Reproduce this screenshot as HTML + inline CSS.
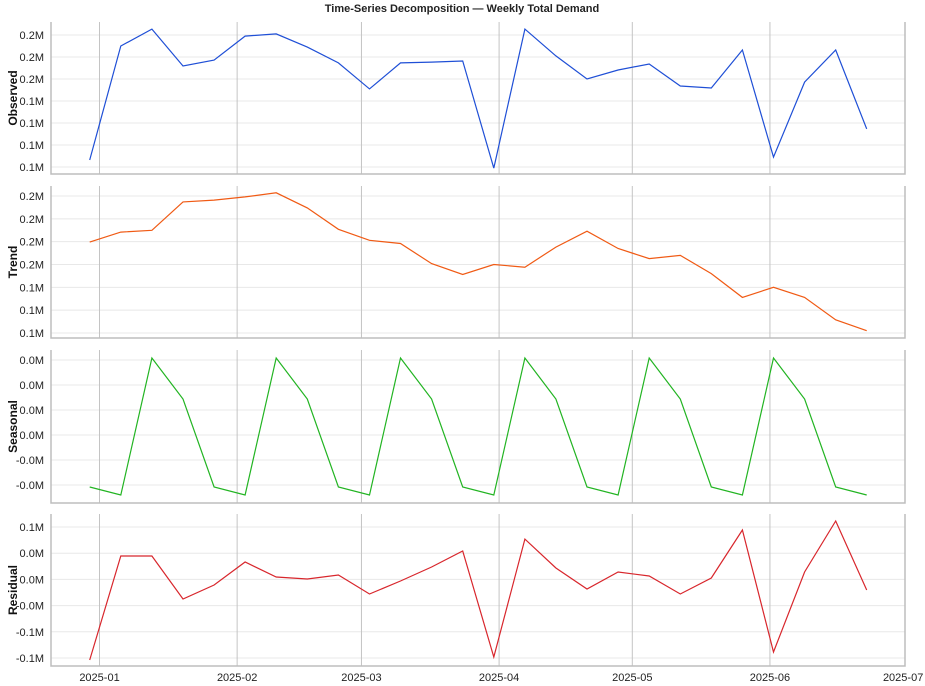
<!DOCTYPE html>
<html><head><meta charset="utf-8">
<style>
html,body{margin:0;padding:0;background:#fff;}
svg{display:block;font-family:"Liberation Sans",Arial,sans-serif;}
</style></head>
<body>
<svg id="chart" width="925" height="686" viewBox="0 0 925 686" xmlns="http://www.w3.org/2000/svg">
<text x="462" y="12" text-anchor="middle" font-size="11" font-weight="bold" fill="#222">Time-Series Decomposition — Weekly Total Demand</text>
</svg>
<script>
// Weekly dates (day offset from 2025-01-01)
const weekStartDay = -2.2;
const weekCount = 26;
const observedValues = [118.2,170.0,177.7,160.9,163.6,174.5,175.5,169.5,162.3,150.5,162.3,162.7,163.2,114.5,177.7,165.5,155.0,159.1,161.8,151.8,150.9,168.2,119.5,153.6,168.2,132.3];
const trendValues = [157.4,159.6,160.0,166.2,166.6,167.3,168.2,164.9,160.2,157.8,157.1,152.7,150.3,152.5,151.9,156.3,159.8,156.0,153.8,154.5,150.5,145.3,147.5,145.3,140.4,138.0];
const seasonalValues = [-5.2,-6.0,7.7,3.6,-5.2,-6.0,7.7,3.6,-5.2,-6.0,7.7,3.6,-5.2,-6.0,7.7,3.6,-5.2,-6.0,7.7,3.6,-5.2,-6.0,7.7,3.6,-5.2,-6.0];
const residualValues = [-76.9,22.3,22.3,-18.7,-5.3,16.6,2.3,0.4,4.2,-13.9,-1.5,11.8,27.1,-74.0,38.5,10.9,-9.2,7.1,3.2,-13.9,1.3,47.1,-69.3,7.1,55.7,-10.1];
const observedTicks = [175,165,155,145,135,125,115];
const observedTickLabels = ["0.2M","0.2M","0.2M","0.1M","0.1M","0.1M","0.1M"];
const trendTicks = [167.5,162.5,157.5,152.5,147.5,142.5,137.5];
const trendTickLabels = ["0.2M","0.2M","0.2M","0.2M","0.1M","0.1M","0.1M"];
const seasonalTicks = [7.5,5,2.5,0,-2.5,-5];
const seasonalTickLabels = ["0.0M","0.0M","0.0M","0.0M","-0.0M","-0.0M"];
const residualTicks = [50,25,0,-25,-50,-75];
const residualTickLabels = ["0.1M","0.0M","0.0M","-0.0M","-0.1M","-0.1M"];
const monthDays = [0,31,59,90,120,151,181];
const monthLabels = ["2025-01","2025-02","2025-03","2025-04","2025-05","2025-06","2025-07"];

const NS = "http://www.w3.org/2000/svg";
const svg = document.getElementById('chart');
const X0 = 51, X1 = 905;
const pxPerDay = 4.44, day0X = 99.5;
function xScale(day){ return day0X + day*pxPerDay; }
function mk(tag, attrs){ const e=document.createElementNS(NS,tag); for(const k in attrs) e.setAttribute(k,attrs[k]); svg.appendChild(e); return e; }

const panels = [
 {name:'observed', label:'Observed', vals:observedValues, ticks:observedTicks, tl:observedTickLabels, top:22, bot:174, t0y:35, t1y:167, color:'#1f4fd6'},
 {name:'trend', label:'Trend', vals:trendValues, ticks:trendTicks, tl:trendTickLabels, top:186, bot:338, t0y:196, t1y:333, color:'#f05a14'},
 {name:'seasonal', label:'Seasonal', vals:seasonalValues, ticks:seasonalTicks, tl:seasonalTickLabels, top:350, bot:503, t0y:360, t1y:485, color:'#22b422'},
 {name:'residual', label:'Residual', vals:residualValues, ticks:residualTicks, tl:residualTickLabels, top:514, bot:666, t0y:527, t1y:658, color:'#d8262c'}
];

panels.forEach(p=>{
  const v0=p.ticks[0], v1=p.ticks[p.ticks.length-1];
  const yScale = v => p.t0y + (v0 - v)*(p.t1y-p.t0y)/(v0-v1);
  p.ticks.forEach((t,i)=>{
    const y=yScale(t);
    const g=mk('line',{x1:X0,x2:X1,y1:y,y2:y,stroke:'#e8e8e8','stroke-width':1});
    
    
    const tx=mk('text',{x:44,y:y+4,'text-anchor':'end','font-size':11,fill:'#222'});
    tx.textContent=p.tl[i];
    
    
  });
  monthDays.forEach(d=>{
    const x=xScale(d);
    if(x>X0 && x<X1-2){
      const l=mk('line',{x1:x,x2:x,y1:p.top,y2:p.bot,stroke:'#c4c4c4','stroke-width':1});
      
      
    }
  });
  const ax=mk('path',{d:`M${X0},${p.top} V${p.bot} H${X1} V${p.top}`,fill:'none',stroke:'#bdbdbd','stroke-width':1.5});
  
  
  const ty=(p.top+p.bot)/2;
  const yl=mk('text',{x:17,y:ty,'text-anchor':'middle','font-size':12,'font-weight':'bold',fill:'#111',transform:`rotate(-90 17 ${ty})`});
  yl.textContent=p.label;
  
  
  let d='';
  p.vals.forEach((v,i)=>{ const x=xScale(weekStartDay+7*i); d+=(i?'L':'M')+x.toFixed(1)+','+yScale(v).toFixed(1); });
  const line=mk('path',{d:d,fill:'none',stroke:p.color,'stroke-width':1.2});
  
  
});

monthDays.forEach((d,i)=>{
  const t=mk('text',{x:xScale(d),y:681,'text-anchor':'middle','font-size':11,fill:'#222'});
  t.textContent=monthLabels[i];
  
  
});
</script>
</body></html>
